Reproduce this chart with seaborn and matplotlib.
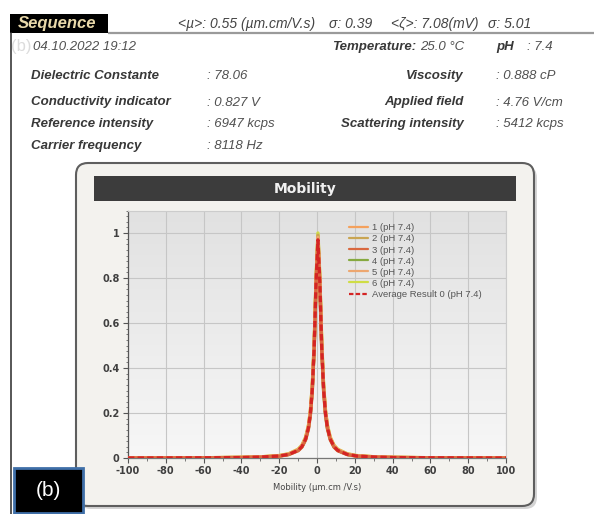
import numpy as np
import pandas as pd
import matplotlib
matplotlib.use("Agg")
import matplotlib.pyplot as plt
import seaborn as sns
from matplotlib.patches import FancyBboxPatch, Rectangle
from matplotlib.colors import LinearSegmentedColormap
from matplotlib.ticker import MultipleLocator

# ---------------- data ----------------
MOBILITY = [-100, -60, -40, -30, -20, -15, -10, -8, -6, -4.5, -3.5, -2.5, -1.5, -0.5,
            0.5, 1.5, 2.5, 3.5, 4.5, 5.5, 7, 9, 11, 16, 21, 31, 41, 61, 100]
RUN1 = [0.000, 0.001, 0.003, 0.005, 0.010, 0.018, 0.037, 0.055, 0.090, 0.143, 0.207, 0.318, 0.50, 0.79,
        0.98, 0.80, 0.51, 0.318, 0.207, 0.143, 0.090, 0.055, 0.037, 0.018, 0.010, 0.005, 0.003, 0.001, 0.000]
RUN2 = [0.000, 0.001, 0.002, 0.004, 0.009, 0.016, 0.035, 0.052, 0.087, 0.139, 0.201, 0.310, 0.49, 0.78,
        0.99, 0.79, 0.50, 0.312, 0.202, 0.139, 0.087, 0.052, 0.035, 0.016, 0.009, 0.004, 0.002, 0.001, 0.000]
RUN3 = [0.000, 0.001, 0.002, 0.004, 0.008, 0.015, 0.032, 0.048, 0.081, 0.130, 0.190, 0.295, 0.48, 0.77,
        0.96, 0.77, 0.48, 0.296, 0.190, 0.130, 0.081, 0.048, 0.032, 0.015, 0.008, 0.004, 0.002, 0.001, 0.000]
RUN4 = [0.000, 0.001, 0.002, 0.004, 0.009, 0.016, 0.034, 0.050, 0.084, 0.135, 0.196, 0.302, 0.49, 0.78,
        0.97, 0.78, 0.49, 0.303, 0.197, 0.135, 0.084, 0.050, 0.034, 0.016, 0.009, 0.004, 0.002, 0.001, 0.000]
RUN5 = [0.000, 0.001, 0.003, 0.005, 0.010, 0.017, 0.036, 0.053, 0.088, 0.141, 0.204, 0.314, 0.50, 0.79,
        0.98, 0.79, 0.50, 0.315, 0.205, 0.141, 0.088, 0.053, 0.036, 0.017, 0.010, 0.005, 0.003, 0.001, 0.000]
RUN6 = [0.000, 0.001, 0.003, 0.005, 0.011, 0.019, 0.039, 0.057, 0.093, 0.147, 0.211, 0.322, 0.51, 0.80,
        1.00, 0.81, 0.52, 0.325, 0.212, 0.148, 0.093, 0.057, 0.039, 0.019, 0.011, 0.005, 0.003, 0.001, 0.000]
AVERAGE = [0.000, 0.001, 0.002, 0.004, 0.009, 0.016, 0.034, 0.051, 0.085, 0.136, 0.198, 0.305, 0.49, 0.78,
           0.97, 0.78, 0.49, 0.305, 0.198, 0.136, 0.085, 0.051, 0.034, 0.016, 0.009, 0.004, 0.002, 0.001, 0.000]

SERIES_NAMES = ["1 (pH 7.4)", "2 (pH 7.4)", "3 (pH 7.4)", "4 (pH 7.4)", "5 (pH 7.4)", "6 (pH 7.4)",
                "Average Result 0 (pH 7.4)"]
SERIES_VALUES = [RUN1, RUN2, RUN3, RUN4, RUN5, RUN6, AVERAGE]
SERIES_COLORS = ["#f4a15d", "#c9a552", "#d9683f", "#86a93f", "#eda770", "#cfdd45", "#d42424"]

X_TICKS = [-100, -80, -60, -40, -20, 0, 20, 40, 60, 80, 100]
Y_TICKS = [0, 0.2, 0.4, 0.6, 0.8, 1.0]
Y_TICK_LABELS = ["0", "0.2", "0.4", "0.6", "0.8", "1"]

HEADER_ITEMS = [("<µ>: 0.55 (µm.cm/V.s)", 178), ("σ: 0.39", 329), ("<ζ>: 7.08(mV)", 391), ("σ: 5.01", 488)]

# ---------------- figure ----------------
sns.set_style("white")
plt.rcParams['font.family'] = ['Liberation Sans', 'DejaVu Sans']
plt.rcParams['axes.unicode_minus'] = False

W, H = 594, 514
fig = plt.figure(figsize=(W / 100, H / 100), dpi=100)
fig.patch.set_facecolor("white")

# pixel-space background axes
bg = fig.add_axes([0, 0, 1, 1])
bg.set_xlim(0, W)
bg.set_ylim(H, 0)
bg.axis("off")

# outer frame lines
bg.plot([108, W], [33, 33], color="#9a9a9a", lw=1.6, solid_capstyle="butt")
bg.plot([10.5, 10.5], [33, H], color="#3a3a3a", lw=1.2)

# Sequence tag
bg.add_patch(Rectangle((10, 14), 98, 19, facecolor="black", edgecolor="none"))
bg.text(18, 23.5, "Sequence", color="#e9d9aa", fontsize=12, fontweight="bold", fontstyle="italic",
        va="center", ha="left")
for txt, xx in HEADER_ITEMS:
    bg.text(xx, 24, txt, color="#444444", fontsize=10, fontstyle="italic", va="center", ha="left")

# faint watermark
bg.text(11, 47, "(b)", color="#dcdcdc", fontsize=12, va="center", ha="left")

lab = dict(color="#383838", fontsize=9.5, fontweight="bold", fontstyle="italic", va="center")
val = dict(color="#505050", fontsize=9.5, fontstyle="italic", va="center")

bg.text(33, 47, "04.10.2022 19:12", ha="left", **val)
bg.text(416, 47, "Temperature:", ha="right", **lab)
bg.text(464, 47, "25.0 °C", ha="right", **val)
bg.text(496, 47, "pH", ha="left", **lab)
bg.text(527, 47, ": 7.4", ha="left", **val)

rows = [
    (76, "Dielectric Constante", ": 78.06", "Viscosity", ": 0.888 cP"),
    (102.5, "Conductivity indicator", ": 0.827 V", "Applied field", ": 4.76 V/cm"),
    (124, "Reference intensity", ": 6947 kcps", "Scattering intensity", ": 5412 kcps"),
    (146, "Carrier frequency", ": 8118 Hz", None, None),
]
for yy, l1, v1, l2, v2 in rows:
    bg.text(31, yy, l1, ha="left", **lab)
    bg.text(207, yy, v1, ha="left", **val)
    if l2:
        bg.text(464, yy, l2, ha="right", **lab)
        bg.text(496, yy, v2, ha="left", **val)

# chart panel with shadow
bg.add_patch(FancyBboxPatch((79, 166), 458, 343, boxstyle="round,pad=0,rounding_size=12",
                            facecolor="#b8b8b8", edgecolor="none", alpha=0.6))
bg.add_patch(FancyBboxPatch((76, 163), 458, 343, boxstyle="round,pad=0,rounding_size=12",
                            facecolor="#f3f2ee", edgecolor="#5e5e5e", lw=1.5))
bg.add_patch(Rectangle((94, 176), 422, 25, facecolor="#3c3c3c", edgecolor="none"))
bg.text(305, 189, "Mobility", color="#f0f0f0", fontsize=10, fontweight="bold",
        family="DejaVu Sans", ha="center", va="center")

# (b) label box
bg.add_patch(Rectangle((13.5, 467.5), 69.5, 45, facecolor="black", edgecolor="#3f6fa8", lw=2))
bg.text(48, 491, "(b)", color="white", fontsize=15, ha="center", va="center")

# ---------------- plot ----------------
left, right, bottom, top = 128, 506, 458, 210.5
ax = fig.add_axes([left / W, 1 - bottom / H, (right - left) / W, (bottom - top) / H])
ax.set_xlim(-100, 100)
ax.set_ylim(0, 1.1)

cmap = LinearSegmentedColormap.from_list("bgfade", ["#f7f7f7", "#e1e1e1"])
ax.imshow(np.linspace(0, 1, 256).reshape(-1, 1), extent=[-100, 100, 0, 1.1], aspect="auto",
          cmap=cmap, origin="lower", zorder=0)

for xt in X_TICKS:
    ax.axvline(xt, color="#c6c6c6", lw=0.8, zorder=1)
for yt in Y_TICKS:
    ax.axhline(yt, color="#c6c6c6", lw=0.8, zorder=1)

frames = []
for name, vals in zip(SERIES_NAMES, SERIES_VALUES):
    frames.append(pd.DataFrame({"Mobility": MOBILITY, "value": vals, "series": name}))
df = pd.concat(frames, ignore_index=True)

palette = dict(zip(SERIES_NAMES, SERIES_COLORS))
draw_order = [5, 3, 1, 0, 4, 2]
handles = {}
for i in draw_order:
    name = SERIES_NAMES[i]
    sub = df[df["series"] == name]
    sns.lineplot(data=sub, x="Mobility", y="value", color=palette[name], lw=2.4, ax=ax,
                 zorder=3, estimator=None, sort=False)
avg = df[df["series"] == SERIES_NAMES[-1]]
sns.lineplot(data=avg, x="Mobility", y="value", color=palette[SERIES_NAMES[-1]], lw=2.3, ax=ax,
             zorder=4, estimator=None, sort=False, linestyle=(0, (2.0, 1.0)))

ax.set_xticks(X_TICKS)
ax.set_yticks(Y_TICKS)
ax.set_yticklabels(Y_TICK_LABELS)
ax.xaxis.set_minor_locator(MultipleLocator(10))
ax.yaxis.set_minor_locator(MultipleLocator(0.025))
ax.tick_params(axis="both", which="major", direction="out", length=3.5, width=0.8, color="#555555",
               labelsize=7, labelcolor="#3f3f3f", pad=2.5)
ax.tick_params(axis="both", which="minor", direction="out", length=1.8, width=0.6, color="#666666")
ax.tick_params(axis="x", which="both", bottom=True)
ax.tick_params(axis="y", which="both", left=True)
for lbl in ax.get_xticklabels() + ax.get_yticklabels():
    lbl.set_fontweight("bold")
    lbl.set_family("DejaVu Sans")

ax.set_xlabel("Mobility (µm.cm /V.s)", fontsize=6, color="#444444", family="DejaVu Sans", labelpad=5)
ax.set_ylabel("")

for s in ["top", "right"]:
    ax.spines[s].set_color("#cccccc")
    ax.spines[s].set_linewidth(0.8)
ax.spines["left"].set_color("#555555")
ax.spines["left"].set_linewidth(0.9)
ax.spines["bottom"].set_color("#777777")
ax.spines["bottom"].set_linewidth(0.9)

# legend in series order
from matplotlib.lines import Line2D
leg_handles = [Line2D([], [], color=c, lw=1.6) for c in SERIES_COLORS[:-1]]
leg_handles.append(Line2D([], [], color=SERIES_COLORS[-1], lw=1.6, linestyle=(0, (2.0, 1.0))))
leg = ax.legend(leg_handles, SERIES_NAMES, loc="upper left", bbox_to_anchor=(0.585, 0.948),
                frameon=False, fontsize=6.8, handlelength=2.0, handletextpad=0.4,
                labelspacing=0.22, borderpad=0, borderaxespad=0)
for t in leg.get_texts():
    t.set_color("#555555")

fig.savefig("out.png", dpi=100)
